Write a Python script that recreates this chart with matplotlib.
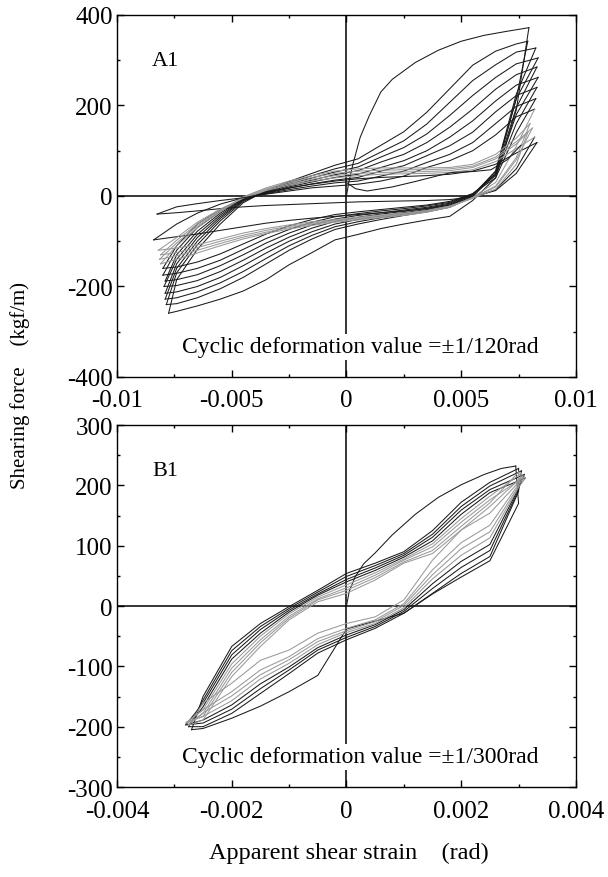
"""
plot.py
Histerezne petlje smicanja (A1 i B1) - rekonstrukcija slike
"""

import numpy as np
import matplotlib
matplotlib.use('Agg')
import matplotlib.pyplot as plt
from matplotlib.ticker import MultipleLocator, FuncFormatter

plt.rcParams['font.family'] = ['Liberation Serif', 'Noto Sans CJK JP']
plt.rcParams['axes.unicode_minus'] = False

# -------------------------------
# PODACI (x u 1e-3 rad, y u kgf/m)
# -------------------------------

# A1: prvo opterecenje
a1_virgin_x = [0.0, 0.1, 0.3, 0.6, 1.0, 1.5, 2.0, 3.0, 4.0, 5.0, 6.0, 7.0, 7.6, 7.95]
a1_virgin_y = [0, 30, 74, 130, 178, 230, 258, 295, 322, 342, 355, 364, 369, 372]

# vrhovi petlji
a1_pos_tip_x = [7.95, 7.9, 8.25, 8.35, 8.3, 8.35, 8.3, 8.25, 8.2, 8.0, 8.1, 7.9, 8.2, 8.3]
a1_pos_tip_y = [372, 342, 327, 305, 285, 262, 240, 215, 192, 160, 150, 140, 130, 118]
a1_neg_tip_x = [-7.75, -7.85, -7.9, -7.9, -7.95, -7.9, -8.0, -8.0, -8.1, -8.15, -8.1, -8.2, -8.4, -8.25]
a1_neg_tip_y = [-259, -240, -228, -215, -200, -188, -175, -160, -150, -140, -130, -120, -97, -40]

# grane rasterecenja (desno -> lijevo)
a1_dn_x = [7.4, 6.5, 5.5, 4.5, 3.5, 2.5, 1.5, 0.5, -0.5, -1.5, -2.5, -3.5, -4.5, -5.5, -6.5, -7.4]
a1_dn_y = [
    [190, 40, -10, -45, -53, -62, -72, -85, -97, -125, -152, -185, -210, -228, -243, -255],
    [215, 50, -2, -25, -35, -43, -52, -62, -74, -95, -120, -150, -180, -205, -225, -238],
    [225, 55, 0, -22, -32, -40, -48, -57, -68, -87, -110, -138, -167, -192, -212, -225],
    [215, 55, 2, -20, -30, -37, -44, -52, -62, -79, -100, -126, -154, -180, -200, -212],
    [195, 50, 3, -18, -27, -34, -40, -47, -56, -71, -91, -115, -142, -167, -187, -198],
    [180, 48, 4, -16, -25, -31, -37, -43, -51, -64, -82, -104, -130, -154, -174, -185],
    [160, 45, 5, -14, -22, -28, -33, -39, -46, -58, -74, -94, -118, -142, -160, -171],
    [140, 40, 5, -12, -20, -25, -30, -35, -41, -52, -66, -84, -106, -128, -146, -157],
    [110, 30, -3, -25, -36, -43, -48, -53, -58, -65, -73, -83, -95, -110, -126, -140],
    [85, 22, -4, -24, -35, -41, -46, -51, -56, -62, -70, -80, -91, -105, -120, -132],
    [80, 20, -5, -23, -33, -39, -44, -49, -54, -60, -67, -76, -87, -100, -114, -125],
    [70, 15, -5, -22, -32, -38, -42, -47, -52, -57, -64, -72, -82, -95, -108, -115],
    [60, 14, -4, -20, -28, -33, -37, -41, -45, -49, -54, -60, -68, -76, -84, -90],
    [50, 12, -2, -8, -10, -11, -12, -13, -15, -17, -19, -21, -24, -28, -33, -37],
]

# grane ponovnog opterecenja (lijevo -> desno)
a1_up_x = [-7.4, -6.5, -5.5, -4.5, -3.5, -2.5, -1.5, -0.5, 0.5, 1.5, 2.5, 3.5, 4.5, 5.5, 6.5, 7.4]
a1_up_y = [
    [-185, -118, -62, -15, 12, 32, 50, 68, 82, 112, 142, 185, 237, 289, 320, 336],
    [-170, -108, -55, -12, 10, 29, 45, 60, 72, 97, 122, 159, 207, 255, 290, 318],
    [-160, -100, -50, -10, 9, 26, 40, 53, 64, 86, 107, 137, 178, 222, 262, 292],
    [-150, -92, -46, -9, 8, 23, 35, 47, 56, 75, 92, 118, 152, 192, 236, 268],
    [-140, -85, -42, -8, 7, 20, 31, 41, 48, 63, 78, 100, 130, 166, 210, 245],
    [-130, -78, -38, -7, 6, 17, 27, 35, 41, 55, 67, 89, 111, 141, 186, 222],
    [-120, -70, -34, -6, 5, 14, 22, 29, 33, 44, 55, 74, 92, 118, 160, 198],
    [-110, -62, -30, -5, 4, 11, 18, 22, 26, 33, 44, 63, 78, 100, 135, 175],
    [-110, -70, -35, -2, 18, 33, 45, 55, 60, 62, 62, 62, 63, 70, 92, 128],
    [-104, -66, -33, -3, 16, 30, 41, 50, 55, 57, 58, 58, 60, 66, 86, 120],
    [-98, -62, -31, -4, 14, 27, 37, 45, 50, 52, 53, 54, 56, 63, 82, 115],
    [-92, -58, -29, -5, 12, 24, 33, 40, 45, 48, 49, 50, 52, 58, 76, 105],
    [-62, -38, -18, -4, 8, 18, 26, 33, 38, 41, 43, 45, 48, 55, 70, 95],
]
a1_last_x = [-7.4, -6.5, -5.5, -4.5, -3.5]
a1_last_y = [-24, -17, -10, -4, 5]
a1_gray = [8, 9, 10, 11]

# kratka linija od ishodista udesno (nisko opterecenje)
a1_slip_x = [0.05, 0.4, 0.9, 2.0, 3.0, 4.0, 4.6, 5.5, 6.3, 7.0, 7.6]
a1_slip_y = [28, 16, 11, 20, 32, 45, 52, 54, 58, 80, 112]

# B1: prvo opterecenje
b1_virgin_x = [0.0, 0.05, 0.15, 0.3, 0.5, 0.8, 1.2, 1.6, 2.0, 2.4, 2.7, 2.95]
b1_virgin_y = [0, 25, 48, 70, 88, 118, 152, 180, 201, 218, 228, 232]

b1_pos_tip_x = [2.95, 3.0, 3.05, 3.1, 3.12, 3.05, 3.1, 3.0, 3.08]
b1_pos_tip_y = [232, 228, 224, 218, 212, 220, 214, 222, 216]
b1_neg_tip_x = [-2.7, -2.75, -2.8, -2.72, -2.78, -2.75, -2.8, -2.76]
b1_neg_tip_y = [-205, -200, -197, -195, -192, -196, -194, -198]

b1_dn_x = [3.0, 2.5, 2.0, 1.5, 1.0, 0.5, 0.0, -0.5, -1.0, -1.5, -2.0, -2.5]
b1_dn_y = [
    [170, 75, 48, 20, -12, -25, -38, -115, -142, -166, -186, -203],
    [190, 82, 54, 21, -12, -37, -56, -78, -112, -145, -178, -200],
    [192, 92, 64, 29, -9, -34, -52, -73, -106, -137, -171, -194],
    [195, 102, 74, 37, -6, -31, -48, -69, -101, -129, -164, -189],
    [197, 113, 84, 45, -3, -29, -44, -64, -95, -121, -157, -183],
    [199, 123, 95, 52, 1, -26, -41, -59, -89, -114, -149, -177],
    [202, 134, 105, 60, 4, -23, -37, -54, -84, -106, -142, -172],
    [205, 154, 126, 76, 10, -18, -29, -45, -73, -90, -128, -161],
]

b1_up_x = [-2.5, -2.0, -1.5, -1.0, -0.5, 0.0, 0.5, 1.0, 1.5, 2.0, 2.5]
b1_up_y = [
    [-150, -67, -29, -1, 26, 54, 71, 90, 125, 172, 205],
    [-156, -74, -34, -4, 23, 49, 67, 87, 119, 165, 199],
    [-161, -81, -39, -7, 20, 44, 63, 84, 114, 159, 193],
    [-167, -88, -45, -10, 18, 40, 59, 81, 108, 152, 188],
    [-172, -96, -50, -13, 15, 35, 55, 78, 103, 145, 182],
    [-178, -103, -56, -17, 12, 30, 51, 76, 98, 139, 176],
    [-183, -110, -61, -20, 10, 26, 47, 73, 92, 132, 171],
    [-189, -117, -67, -23, 7, 21, 43, 71, 87, 126, 165],
]
b1_gray = [4, 5, 6, 7]

LINE_K = '#1a1a1a'
LINE_G = '#999999'
LW = 0.75

# -------------------------------
# POMOCNE FUNKCIJE
# -------------------------------

def branch(tip0, xs, ys, tip1):
    x = [tip0[0]] + list(xs) + [tip1[0]]
    y = [tip0[1]] + list(ys) + [tip1[1]]
    return np.array(x) * 1e-3, np.array(y)

def draw_loops(ax, vx, vy, pos_x, pos_y, neg_x, neg_y, dn_x, dn_y, up_x, up_y, gray):
    ax.plot(np.array(vx) * 1e-3, vy, color=LINE_K, lw=LW)
    order = [i for i in range(len(dn_y)) if i not in gray] + list(gray)
    for i in order:
        c = LINE_G if i in gray else LINE_K
        x, y = branch((pos_x[i], pos_y[i]), dn_x, dn_y[i], (neg_x[i], neg_y[i]))
        ax.plot(x, y, color=c, lw=LW)
        if i < len(up_y):
            x, y = branch((neg_x[i], neg_y[i]), up_x, up_y[i], (pos_x[i + 1], pos_y[i + 1]))
            ax.plot(x, y, color=c, lw=LW)

def style_axes(ax, xlim, ylim, xmaj, ymaj):
    ax.set_xlim(xlim)
    ax.set_ylim(ylim)
    ax.xaxis.set_major_locator(MultipleLocator(xmaj))
    ax.xaxis.set_minor_locator(MultipleLocator(xmaj / 2))
    ax.yaxis.set_major_locator(MultipleLocator(ymaj))
    ax.yaxis.set_minor_locator(MultipleLocator(ymaj / 2))
    fmt = FuncFormatter(lambda v, p: '%g' % round(v, 6))
    ax.xaxis.set_major_formatter(fmt)
    ax.yaxis.set_major_formatter(fmt)
    ax.tick_params(which='both', direction='in', top=True, right=True, labelsize=18)
    ax.tick_params(which='major', length=5, width=1.0)
    ax.tick_params(which='minor', length=2.5, width=1.0)
    ax.tick_params(axis='x', pad=9)
    ax.tick_params(axis='y', pad=3)
    for s in ax.spines.values():
        s.set_linewidth(1.0)
    ax.axhline(0, color='k', lw=1.1, zorder=1)
    ax.axvline(0, color='k', lw=1.1, zorder=1)

# -------------------------------
# CRTANJE
# -------------------------------

fig = plt.figure(figsize=(6.08, 8.78), dpi=100)
ax1 = fig.add_axes([0.1924, 0.5695, 0.7549, 0.4123])
ax2 = fig.add_axes([0.1924, 0.1025, 0.7549, 0.4123])

draw_loops(ax1, a1_virgin_x, a1_virgin_y, a1_pos_tip_x, a1_pos_tip_y,
           a1_neg_tip_x, a1_neg_tip_y, a1_dn_x, a1_dn_y, a1_up_x, a1_up_y, a1_gray)
ax1.plot(np.array([a1_neg_tip_x[-1]] + a1_last_x) * 1e-3, [a1_neg_tip_y[-1]] + a1_last_y,
         color=LINE_K, lw=LW)
ax1.plot(np.array(a1_slip_x) * 1e-3, a1_slip_y, color=LINE_K, lw=LW)
style_axes(ax1, (-0.01, 0.01), (-400, 400), 0.005, 200)

draw_loops(ax2, b1_virgin_x, b1_virgin_y, b1_pos_tip_x, b1_pos_tip_y,
           b1_neg_tip_x, b1_neg_tip_y, b1_dn_x, b1_dn_y, b1_up_x, b1_up_y, b1_gray)
style_axes(ax2, (-0.004, 0.004), (-300, 300), 0.002, 100)

box = dict(facecolor='white', edgecolor='none', pad=1.5)
ax1.text(0.105, 0.875, 'A1', transform=ax1.transAxes, ha='center', va='center', fontsize=16)
ax2.text(0.105, 0.875, 'B1', transform=ax2.transAxes, ha='center', va='center', fontsize=16)
ax1.text(0.53, 0.083, 'Cyclic deformation value =\u00b11/120rad', transform=ax1.transAxes,
         ha='center', va='center', fontsize=17, bbox=box, zorder=5)
ax2.text(0.53, 0.083, 'Cyclic deformation value =\u00b11/300rad', transform=ax2.transAxes,
         ha='center', va='center', fontsize=17, bbox=box, zorder=5)

fig.text(0.033, 0.5615, 'Shearing force\u3000(kgf/m)', rotation=90, ha='center', va='center',
         fontsize=15)
fig.text(0.573, 0.0285, 'Apparent shear strain\u3000(rad)', ha='center', va='center',
         fontsize=17.5)

fig.savefig('out.png', dpi=100)
